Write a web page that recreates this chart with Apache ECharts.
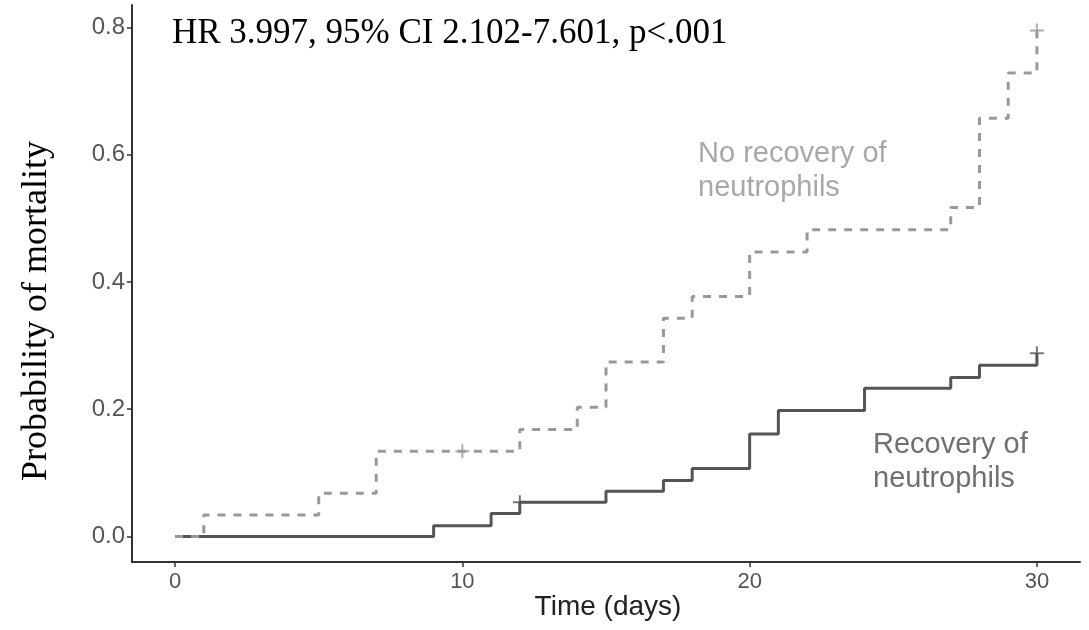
<!DOCTYPE html>
<html>
<head>
<meta charset="utf-8">
<script src="https://cdn.jsdelivr.net/npm/echarts@6/dist/echarts.min.js"></script>
<style>
  *{margin:0;padding:0;}
  body{background:#fff;}
  #main{width:1089px;height:630px;}
</style>
</head>
<body>
<div id="main"></div>
<script>
// no recovery of neutrophils (dashed)
var noRecTimes = [0, 1, 5, 7, 12, 14, 15, 17, 18, 20, 22, 27, 28, 29, 30];
var noRecProb  = [0, 0.034, 0.068, 0.134, 0.168, 0.203, 0.274, 0.343, 0.377, 0.447, 0.482, 0.517, 0.657, 0.728, 0.795];
var noRecCensor = [[10, 0.134], [30, 0.795]];

// recovery of neutrophils (solid)
var recTimes = [0, 9, 11, 12, 15, 17, 18, 20, 21, 24, 27, 28, 30];
var recProb  = [0, 0.017, 0.036, 0.054, 0.071, 0.088, 0.107, 0.161, 0.198, 0.233, 0.25, 0.269, 0.288];
var recCensor = [[12, 0.054], [30, 0.288]];

var xTicks = [0, 10, 20, 30];
var yTicks = [0, 0.2, 0.4, 0.6, 0.8];

function pairs(xs, ys) {
  return xs.map(function (x, i) { return [x, ys[i]]; });
}

var plus = 'path://M6,0h2v6h6v2h-6v6h-2v-6h-6v-2h6z';

var myChart = echarts.init(document.getElementById('main'));

myChart.setOption({
  animation: false,
  grid: { left: 132, right: 9, top: 5, bottom: 68 },
  xAxis: {
    type: 'value',
    min: -1.5,
    max: 31.5,
    splitLine: { show: false },
    axisLine: { show: true, onZero: false, lineStyle: { color: '#333', width: 2 } },
    axisTick: { show: true, customValues: xTicks, length: 5, lineStyle: { color: '#333', width: 1.5 } },
    axisLabel: {
      customValues: xTicks, color: '#555', fontSize: 22,
      fontFamily: 'Liberation Sans', margin: 9
    }
  },
  yAxis: {
    type: 'value',
    min: -0.04,
    max: 0.835,
    splitLine: { show: false },
    axisLine: { show: true, onZero: false, lineStyle: { color: '#333', width: 2 } },
    axisTick: { show: true, customValues: yTicks, length: 5, lineStyle: { color: '#333', width: 1.5 } },
    axisLabel: {
      customValues: yTicks, color: '#555', fontSize: 24,
      fontFamily: 'Liberation Sans', margin: 7,
      formatter: function (v) { return v.toFixed(1); }
    }
  },
  series: [
    {
      type: 'line',
      step: 'end',
      data: pairs(recTimes, recProb),
      showSymbol: false,
      lineStyle: { color: '#555', width: 3 },
      z: 2
    },
    {
      type: 'line',
      step: 'end',
      data: pairs(noRecTimes, noRecProb),
      showSymbol: false,
      lineStyle: { color: '#999', width: 3, type: [8, 8] },
      z: 3
    },
    {
      type: 'scatter',
      data: recCensor,
      symbol: plus,
      symbolSize: 14,
      itemStyle: { color: '#555' },
      z: 4
    },
    {
      type: 'scatter',
      data: noRecCensor,
      symbol: plus,
      symbolSize: 14,
      itemStyle: { color: '#999' },
      z: 4
    }
  ],
  graphic: [
    {
      type: 'text', left: 172, top: 16,
      style: { text: 'HR 3.997, 95% CI 2.102-7.601, p<.001', fontFamily: 'Liberation Serif', fontSize: 35, fill: '#000' }
    },
    {
      type: 'text', x: 698, y: 137,
      style: { text: 'No recovery of\nneutrophils', fontFamily: 'Liberation Sans', fontSize: 29, lineHeight: 34, fill: '#a8a8a8' }
    },
    {
      type: 'text', x: 873, y: 428,
      style: { text: 'Recovery of\nneutrophils', fontFamily: 'Liberation Sans', fontSize: 29, lineHeight: 34, fill: '#707070' }
    },
    {
      type: 'text', x: 608, y: 607,
      style: { text: 'Time (days)', fontFamily: 'Liberation Sans', fontSize: 28, fill: '#222', align: 'center', verticalAlign: 'middle' }
    },
    {
      type: 'text', x: 37, y: 311, rotation: Math.PI / 2,
      style: { text: 'Probability of mortality', fontFamily: 'Liberation Serif', fontSize: 36, fill: '#000', align: 'center', verticalAlign: 'middle' }
    }
  ]
});
</script>
</body>
</html>
